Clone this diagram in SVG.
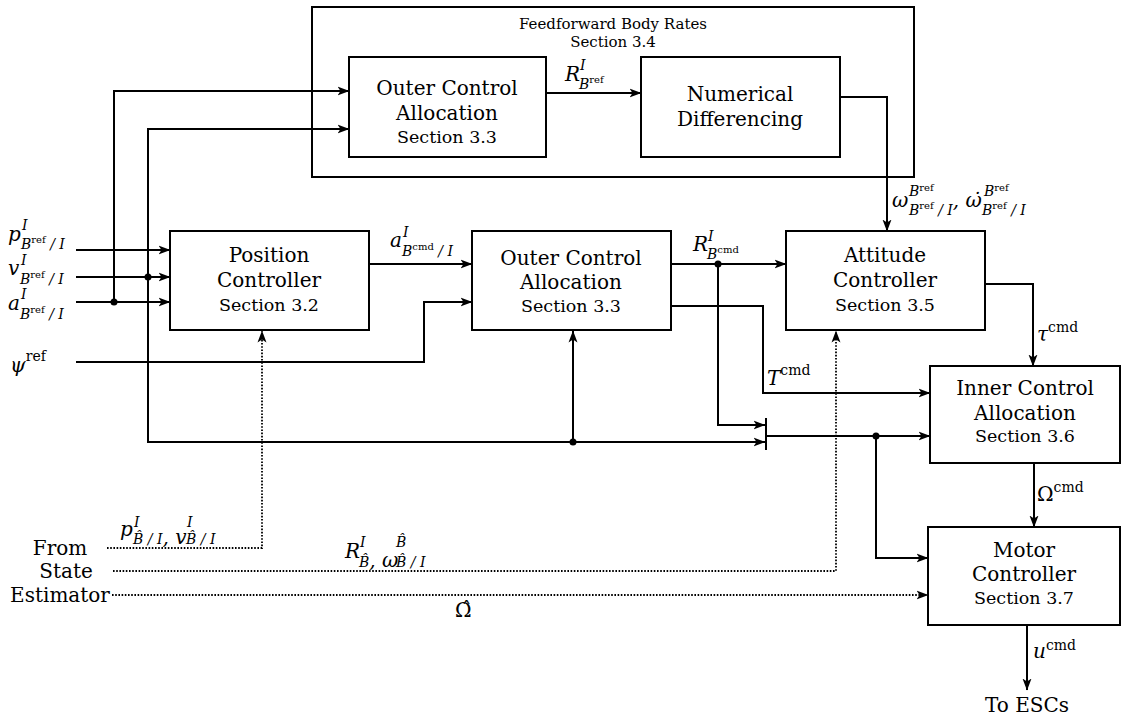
<svg xmlns="http://www.w3.org/2000/svg" width="1126" height="716" viewBox="0 0 1126 716">
<defs>
<marker id="ah" viewBox="0 0 12 10" refX="11.5" refY="5" markerWidth="12" markerHeight="10" markerUnits="userSpaceOnUse" orient="auto">
<path d="M0,0.5 L12,5 L0,9.5 L3,5 Z" fill="#000"/>
</marker>
</defs>
<style>
.box{fill:none;stroke:#000;stroke-width:2}
.w{fill:none;stroke:#000;stroke-width:2}
.d{fill:none;stroke:#000;stroke-width:1.8;stroke-dasharray:1.6 1.6}
.a{marker-end:url(#ah)}
.t{font-family:"DejaVu Serif",serif;font-size:20px;text-anchor:middle;fill:#000}
.sec{font-size:17.5px}
.ft{font-size:15px}
.m{font-family:"DejaVu Serif",serif;font-style:italic;font-size:20px;fill:#000}
.s{font-size:14px}
.ss{font-size:10px;font-style:normal}
.up{font-style:normal}
</style>

<g id="ff">
<rect class="box" x="312" y="7" width="602" height="170"/>
<text class="t ft" x="613" y="29">Feedforward Body Rates</text>
<text class="t ft" x="613" y="47">Section 3.4</text>
</g>
<g id="oca_top">
<rect class="box" x="349" y="57" width="197" height="100"/>
<text class="t" x="447" y="95">Outer Control</text>
<text class="t" x="447" y="120">Allocation</text>
<text class="t sec" x="447" y="143">Section 3.3</text>
</g>
<g id="numdiff">
<rect class="box" x="641" y="57" width="199" height="100"/>
<text class="t" x="740" y="101">Numerical</text>
<text class="t" x="740" y="126">Differencing</text>
</g>
<g id="pos">
<rect class="box" x="170" y="231" width="199" height="99"/>
<text class="t" x="269" y="262">Position</text>
<text class="t" x="269" y="287">Controller</text>
<text class="t sec" x="269" y="311">Section 3.2</text>
</g>
<g id="oca">
<rect class="box" x="472" y="231" width="199" height="99"/>
<text class="t" x="571" y="265">Outer Control</text>
<text class="t" x="571" y="289">Allocation</text>
<text class="t sec" x="571" y="312">Section 3.3</text>
</g>
<g id="att">
<rect class="box" x="786" y="231" width="199" height="99"/>
<text class="t" x="885" y="262">Attitude</text>
<text class="t" x="885" y="287">Controller</text>
<text class="t sec" x="885" y="311">Section 3.5</text>
</g>
<g id="inner">
<rect class="box" x="930" y="366" width="190" height="97"/>
<text class="t" x="1025" y="395">Inner Control</text>
<text class="t" x="1025" y="420">Allocation</text>
<text class="t sec" x="1025" y="442">Section 3.6</text>
</g>
<g id="motor">
<rect class="box" x="928" y="527" width="192" height="98"/>
<text class="t" x="1024" y="557">Motor</text>
<text class="t" x="1024" y="581">Controller</text>
<text class="t sec" x="1024" y="604">Section 3.7</text>
</g>
<g id="estimator">
<text class="t" x="60" y="555">From</text>
<text class="t" x="66" y="578">State</text>
<text class="t" x="60" y="602">Estimator</text>
</g>
<g id="esc">
<text class="t" x="1027" y="712">To ESCs</text>
</g>

<g id="connectors">
<path class="w a" d="M546,93 H641"/>
<path class="w a" d="M840,97 H887 V231"/>
<path class="w a" d="M114,302 V91 H349"/>
<path class="w a" d="M148,277 V129 H349"/>
<path class="w a" d="M76,250 H170"/>
<path class="w a" d="M76,277 H170"/>
<path class="w a" d="M76,302 H170"/>
<path class="w a" d="M148,277 V442 H765"/>
<path class="w a" d="M573,442 V331"/>
<path class="w a" d="M76,362 H424 V302 H472"/>
<path class="w a" d="M369,264 H472"/>
<path class="w a" d="M671,264 H786"/>
<path class="w a" d="M718,264 V425 H765"/>
<path class="w a" d="M671,306 H763 V393 H930"/>
<path class="w" d="M766,418 V450"/>
<path class="w a" d="M766,436 H930"/>
<path class="w a" d="M876,436 V558 H928"/>
<path class="w a" d="M985,284 H1033 V366"/>
<path class="w a" d="M1034,463 V527"/>
<path class="w a" d="M1027,625 V690"/>
<path class="d a" d="M107,548 H262 V331"/>
<path class="d a" d="M113,571 H836 V331"/>
<path class="d a" d="M112,595 H928"/>
<circle cx="114" cy="302" r="3.5"/>
<circle cx="148" cy="277" r="3.5"/>
<circle cx="718" cy="264" r="3.5"/>
<circle cx="573" cy="442" r="3.5"/>
<circle cx="876" cy="436" r="3.5"/>
</g>

<g id="labels">
<text class="m" x="8" y="241">p<tspan class="s" x="22" y="230">I</tspan><tspan class="s" x="21" y="249">B</tspan><tspan class="ss" y="243">ref</tspan><tspan class="s" y="249"> / I</tspan></text>
<text class="m" x="8" y="275">v<tspan class="s" x="21" y="265">I</tspan><tspan class="s" x="20" y="284">B</tspan><tspan class="ss" y="278">ref</tspan><tspan class="s" y="284"> / I</tspan></text>
<text class="m" x="8" y="310">a<tspan class="s" x="21" y="299">I</tspan><tspan class="s" x="20" y="319">B</tspan><tspan class="ss" y="313">ref</tspan><tspan class="s" y="319"> / I</tspan></text>
<text class="m" x="10" y="372">ψ<tspan class="s up" y="361">ref</tspan></text>
<text class="m" x="565" y="81">R<tspan class="s" x="580" y="70">I</tspan><tspan class="s" x="579" y="89">B</tspan><tspan class="ss" y="83">ref</tspan></text>
<text class="m" x="390" y="247">a<tspan class="s" x="403" y="237">I</tspan><tspan class="s" x="402" y="256">B</tspan><tspan class="ss" y="250">cmd</tspan><tspan class="s" y="256"> / I</tspan></text>
<text class="m" x="693" y="251">R<tspan class="s" x="708" y="241">I</tspan><tspan class="s" x="707" y="259">B</tspan><tspan class="ss" y="253">cmd</tspan></text>
<text class="m" x="892" y="207">ω<tspan class="s" x="909" y="196">B</tspan><tspan class="ss" y="191">ref</tspan><tspan class="s" x="909" y="215">B</tspan><tspan class="ss" y="209">ref</tspan><tspan class="s" y="215"> / I</tspan><tspan y="207">, ω̇</tspan><tspan class="s" dx="2" y="196">B</tspan><tspan class="ss" y="191">ref</tspan><tspan class="s" x="982" y="215">B</tspan><tspan class="ss" y="209">ref</tspan><tspan class="s" y="215"> / I</tspan></text>
<text class="m" x="1037" y="341">τ<tspan class="s up" y="332">cmd</tspan></text>
<text class="m" x="767" y="385">T<tspan class="s up" y="375">cmd</tspan></text>
<text class="m up" x="1037" y="501">Ω<tspan class="s" y="492">cmd</tspan></text>
<text class="m" x="1033" y="658">u<tspan class="s up" y="650">cmd</tspan></text>
<text class="m" x="120" y="536">p<tspan class="s" x="134" y="527">I</tspan><tspan class="s" x="133" y="544">B̂ / I</tspan>, v<tspan class="s" x="187" y="527">I</tspan><tspan class="s" x="186" y="544">B̂ / I</tspan></text>
<text class="m" x="345" y="558">R<tspan class="s" x="360" y="547">I</tspan><tspan class="s" x="359" y="567">B̂</tspan>, ω<tspan class="s" x="396" y="547">B̂</tspan><tspan class="s" x="396" y="567">B̂ / I</tspan></text>
<text class="m up" x="455" y="617">Ω̂</text>
</g>
</svg>
